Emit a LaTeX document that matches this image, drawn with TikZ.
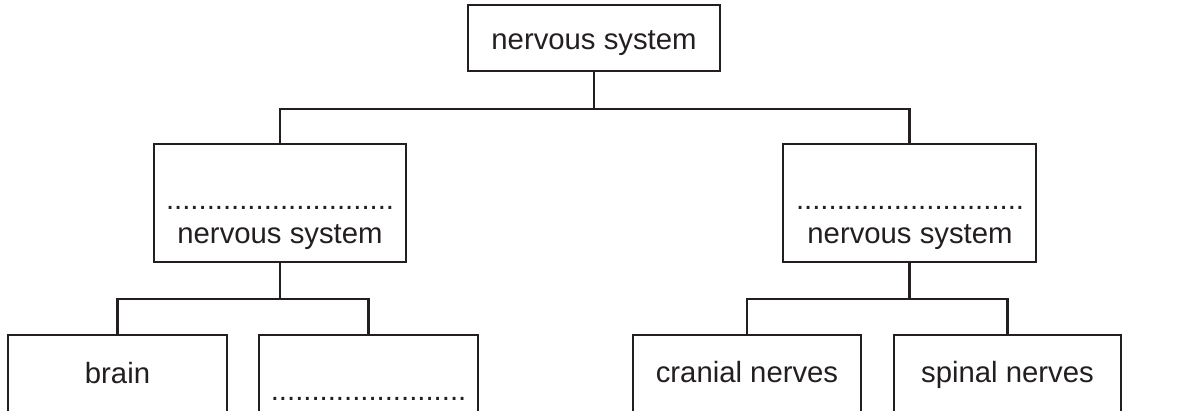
\documentclass[tikz,border=0pt]{standalone}
\usepackage{fontspec}
\setmainfont{Liberation Sans}
\definecolor{ink}{HTML}{231F20}
\begin{document}
\begin{tikzpicture}[x=1pt,y=-1pt,
  box/.style={draw=ink, line width=2.2pt, inner sep=0pt},
  conn/.style={draw=ink, line width=2.2pt},
  lbl/.style={anchor=base, inner sep=0pt, text=ink, font=\fontsize{29.3}{35}\selectfont}]
\useasboundingbox (0,0) rectangle (1180,410);
\fill[white] (0,0) rectangle (1180,410);
\clip (0,0) rectangle (1180,410);
% boxes
\node[box, minimum width=252pt, minimum height=66pt] (top) at (594,38) {};
\node[box, minimum width=252pt, minimum height=118pt] (ml) at (280,203) {};
\node[box, minimum width=253pt, minimum height=118pt] (mr) at (909.5,203) {};
\node[box, minimum width=219pt, minimum height=130pt] (b1) at (117.5,400) {};
\node[box, minimum width=219pt, minimum height=130pt] (b2) at (368.5,400) {};
\node[box, minimum width=228pt, minimum height=130pt] (b3) at (747,400) {};
\node[box, minimum width=227pt, minimum height=130pt] (b4) at (1007.5,400) {};
% connectors
\draw[conn] (top.south) -- ++(0,37) coordinate (j1);
\draw[conn] (ml.north) |- (j1) -| (mr.north);
\draw[conn] (ml.south) -- ++(0,36) coordinate (j2);
\draw[conn] (b1.north) |- (j2) -| (b2.north);
\draw[conn] (mr.south) -- ++(0,36) coordinate (j3);
\draw[conn] (b3.north) |- (j3) -| (b4.north);
% labels
\node[lbl] (t0) at (594,49) {nervous system};
\node[lbl] (d1) at (280,209) {............................};
\node[lbl] (t1) at (280,243) {nervous system};
\node[lbl] (d2) at (910,209) {............................};
\node[lbl] (t2) at (910,243) {nervous system};
\node[lbl] (t3) at (117.5,383) {brain};
\node[lbl] (d3) at (368.5,400) {........................};
\node[lbl] (t4) at (747,382) {cranial nerves};
\node[lbl] (t5) at (1007.5,382) {spinal nerves};
\end{tikzpicture}
\end{document}
